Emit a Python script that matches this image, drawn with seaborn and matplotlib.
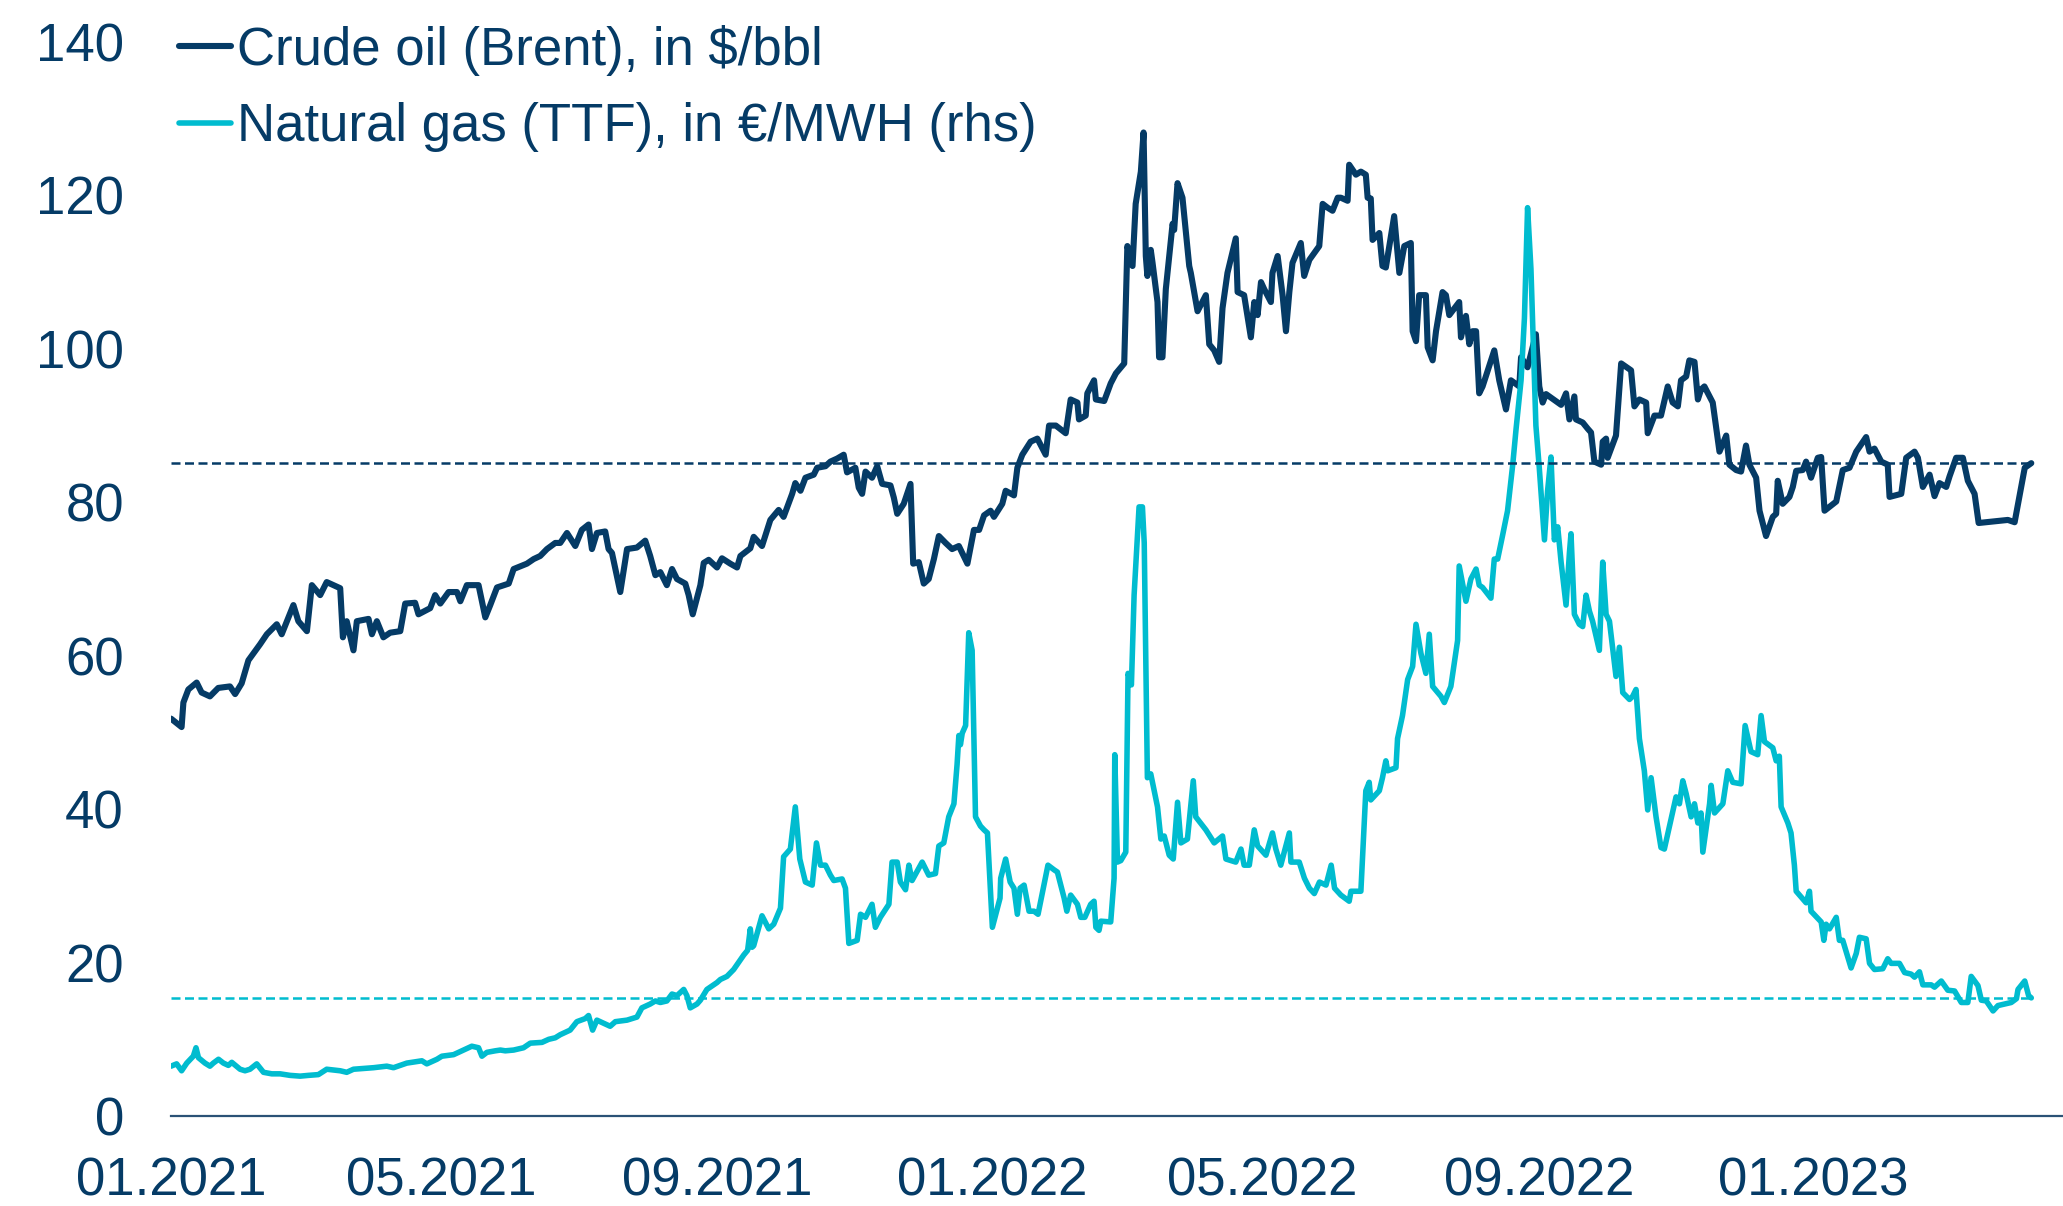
import pandas as pd
import seaborn as sns
import matplotlib.pyplot as plt
import matplotlib.dates as mdates

# days since 01.01.2021 and prices
oil_days = [0, 4.7, 5.5, 7.7, 11.4, 13.6, 17.3, 21, 26.2, 28.5, 31.4, 34.4, 39.6, 42.6, 47, 49.2,
            54.4, 56.6, 60.4, 62.6, 66.3, 69.2, 75.2, 76.4, 78.1, 81.1, 82.6, 87.8, 89.3, 91.5,
            94.4, 97.4, 101.9, 104.1, 108.5, 110, 115.2, 117.4, 119.7, 123.4, 127.1, 128.6,
            131.5, 136.7, 139.7, 141.9, 144.9, 150.1, 152.3, 158.2, 161.2, 164.1, 167.1, 170.8,
            173, 176, 179.7, 182.6, 185.6, 187.1, 189.3, 193, 194.5, 196, 199.7, 202.7, 207.1,
            210.8, 213, 215.3, 217.5, 220.4, 222.7, 224.9, 228.6, 230.1, 231.9, 235.3, 236.8,
            239, 242.7, 244.9, 248.6, 251.6, 253.1, 257.5, 259, 262.7, 266.4, 270.1, 272.3,
            276.1, 277.5, 279.8, 282, 285.7, 287.2, 290.9, 293.1, 296.1, 299, 300.5, 304.2,
            305.7, 307.2, 308.7, 311.6, 313.9, 316.1, 319.8, 321.3, 322.8, 325.7, 328.7, 329.9,
            332.4, 334.6, 336.8, 339.1, 341.3, 344.3, 347.2, 350.2,
            354, 356.9, 359.2, 361.4, 364.3, 365.8, 369.5, 371, 374.7, 376.2, 378.4, 382.1,
            385.1, 388.8, 390.3, 393.3, 397.7, 399.9, 402.9, 403.6, 406.6, 407.3, 410.3, 411.1,
            414.8, 417.7, 420, 423.7, 425.1, 427.4, 428.8, 431.1, 432.3, 433.3, 434, 435.5,
            436.3, 438.5, 439.2, 440.7, 442.2, 445.2, 445.9, 447.4, 449.6, 452.6, 453.3, 456.3,
            460, 461.5, 463.7, 465.9, 467.4, 469.6, 473.3, 474.1, 477, 480, 481.5, 483, 484.5,
            485.9, 488.9, 489.6, 491.9, 494.1, 495.6, 497.1, 498.5, 502.2, 503.7, 506, 510.4,
            511.9, 514.1, 516.3, 518.6, 520, 523, 523.7, 526.7, 528.9,
            531.1, 531.9, 533.3, 534.1, 537.1, 538.5, 540, 543.7, 546, 548.2, 551.1, 551.9,
            553.4, 554.8, 557.8, 558.6, 560.8, 562.3, 565.2, 566.7, 568.2, 572.6, 573.4, 575.6,
            577.1, 578.6, 580.1, 581.5, 583, 588.2, 590.4, 593.4, 595.6, 599.3, 600.1, 603,
            606.7, 608.2, 609.7, 611.2, 617.9, 620.1, 621.6, 623.8, 624.5, 627.5, 629.7, 631.2,
            632.7, 635.7, 636.4, 637.9, 638.6, 642.3, 644.6, 649, 650.5, 652.7, 655.7, 656.4,
            659.4, 662.3, 665.3, 667.5, 669.8, 671.2, 673.5, 674.9, 677.2, 678.7, 680.1, 681.6,
            685.3, 688.3, 691.3, 692.7, 695.7,
            697.9, 700.1, 701.6, 704.6, 706.1, 709, 712, 713.5, 714.2, 716.4, 719.4, 720.9,
            722.4, 725.3, 726.8, 729, 732, 733.5, 735, 740.2, 743.1, 746.1, 749.1, 753.5, 755,
            757.2, 760.2, 763.1, 763.9, 769.1, 771.3, 775, 776.5, 778.7, 781.7, 783.9, 786.1,
            789.1, 790.6, 793.5, 796.5, 798.7, 801.7, 803.5, 816.5, 819.5, 824, 826.9]
oil_price = [51.8, 50.7, 53.9, 55.6, 56.5, 55.2, 54.7, 55.8, 56.0, 55.0, 56.4, 59.4, 61.5, 62.8,
             64.1, 62.8, 66.6, 64.5, 63.2, 69.2, 67.9, 69.6, 68.8, 62.4, 64.5, 60.7, 64.5, 64.8,
             62.8, 64.5, 62.4, 63.0, 63.2, 66.8, 66.9, 65.4, 66.2, 67.9, 66.8, 68.3, 68.3, 67.1,
             69.2, 69.2, 65.0, 66.6, 68.9, 69.4, 71.3, 72.0, 72.6, 73.0, 73.9, 74.7,
             74.7, 76.0, 74.3, 76.4, 77.1, 73.9, 76.0, 76.2, 73.9, 73.4, 68.3, 73.9, 74.1, 75.0,
             73.0, 70.5, 70.9, 69.2, 71.3, 70.0, 69.4, 67.9, 65.4, 69.2, 72.1, 72.5, 71.5, 72.7,
             72.0, 71.5, 73.0, 74.0, 75.5, 74.3, 77.7, 79.0, 78.1, 81.1, 82.5, 81.5, 83.2, 83.6,
             84.5, 84.7, 85.3, 85.7, 86.2, 83.9, 84.5, 81.9, 81.1, 84.0, 83.2, 84.7, 82.4, 82.2,
             80.6, 78.5, 79.8, 82.4, 72.0, 72.2, 69.4, 70.0, 72.6, 75.6, 74.7, 73.9, 74.3,
             72.0, 76.4, 76.4, 78.3, 78.9, 78.1, 79.8, 81.5, 80.9, 84.5, 86.2, 87.9, 88.3, 86.2,
             90.0, 90.0, 89.0, 93.4, 93.0, 90.8, 91.3, 94.2, 95.9, 93.4, 93.2, 95.5, 96.8, 98.1,
             113.4, 110.8, 118.9, 123.1, 128.2, 112.1, 109.5, 112.9, 111.2, 106.1, 98.9, 98.9,
             107.8, 116.3, 115.5, 121.6, 119.7, 110.8, 109.9, 104.9, 107.0, 100.6, 99.8, 98.3,
             105.3, 109.9, 114.4, 107.4, 107.0, 101.5, 106.1, 104.4, 108.7, 107.8, 106.1, 109.9,
             112.1, 107.0, 102.3, 107.4, 111.2, 113.8, 109.5, 111.6, 113.4, 118.9, 118.4, 118.0,
             119.7, 119.7, 119.3, 124.0, 122.7, 123.1,
             122.7, 119.7, 119.6, 114.2, 115.1, 110.8, 110.6, 117.3, 109.9, 113.4, 113.8, 102.3,
             101.0, 107.0, 107.0, 100.2, 98.5, 102.3, 107.4, 107.0, 104.4, 106.1, 101.5, 104.3,
             100.6, 102.3, 102.3, 94.2, 95.1, 99.8, 95.9, 92.1, 95.9, 95.1, 98.9, 97.6, 101.9,
             95.1, 93.0, 94.1, 92.7, 94.2, 90.8, 93.8, 90.8, 90.4, 89.6, 89.1, 85.3, 84.9, 87.9,
             88.3, 85.8, 88.7, 98.1, 97.2, 92.5, 93.4, 93.0, 89.0, 91.3, 91.3, 95.1, 93.0, 92.5,
             95.9, 96.4, 98.5, 98.3, 93.4, 94.7, 95.1, 93.0, 86.6, 88.7, 84.9, 84.2,
             84.0, 87.4, 84.9, 83.2, 78.9, 75.6, 78.1, 78.5, 82.8, 79.8, 80.7, 82.0, 84.1, 84.2,
             85.3, 83.2, 85.8, 85.9, 78.9, 80.1, 84.2, 84.5, 86.6, 88.5, 86.6, 87.0, 85.3, 84.9,
             80.7, 81.1, 85.8, 86.6, 85.8, 82.0, 83.6, 80.8, 82.5, 82.0, 83.4, 85.8, 85.8, 82.8,
             81.1, 77.3, 77.7, 77.4, 84.5, 85.1]

# gas is on the (hidden) rhs scale; values here are as they sit against the lhs axis
gas_days = [0, 2.5, 4.7, 7, 9.9, 11.1, 12.2, 15.1, 17.3, 18.8, 21.1, 23.3, 25.5, 27, 30.7, 32.9,
            35.1, 38.1, 41.1, 44.8, 48.5, 52.9, 57.4, 61.1, 65.5, 69.2, 75.2, 78.1, 81.1, 85.6,
            90, 95.9, 98.9, 104.8, 111.5, 113.7, 118.2, 120.4, 125.6, 129.3, 133.7, 136.7,
            138.2, 140.4, 144.1, 146.4, 148.6, 152.3, 156.7, 159.7, 164.9, 167.9, 170.8,
            173, 177.4, 180.4, 184.1, 185.6, 187.4, 189.3, 193, 195.2, 197.5, 202.7, 207.1,
            209.3, 213, 215.3, 217.5, 220.4, 222.7, 224.9, 227.9, 229.3, 230.8, 233.8, 235.3,
            238.2, 242.7, 244.2, 247.1, 250.1, 254.6, 256.3, 257.5, 258.3, 259, 262.7, 265.7,
            267.9, 270.9, 272.3, 275.3, 277.5, 279.5, 282, 285, 286.9, 288.7, 290.9, 293.1,
            294.6, 298.3, 299.8, 301.3, 305, 306.5, 308.7, 311.6, 313.1, 315.3, 319.1, 320.5,
            322.8, 324.2, 326.5, 328, 329.4, 333.9, 336.8, 339.8, 341.3, 343.5, 345.7, 348,
            349.4, 350.2, 350.9, 351.7, 353.2, 354.6, 356.1, 357.6, 359.8,
            361.4, 362.9, 365.1, 366.6, 368.5, 368.8, 371, 373, 374.7, 376.2, 377.4, 379.2,
            381.4, 383.6, 385.4, 389.8, 392.5, 394, 397, 398.2, 399.9, 402.9, 404.4, 406.2,
            408.8, 410.3, 411.1, 412.5, 413.3, 417.7, 419.2, 419.5, 420.7, 422.2, 424.4, 425.4,
            426.9, 428.1, 430.3, 431.8, 432.6, 434, 435.5, 438.5, 440, 441.5, 443.7, 445.5,
            447.4, 448.9, 451.8, 454.4, 455.5, 460, 463.7, 467.4, 468.9, 473.3, 475.6, 477,
            479.3, 481.5, 483, 486.7, 489.6, 491.1, 493.3, 497.1, 497.8, 501.5, 503.8, 506,
            508.2, 510.5, 513.4, 515.7, 517.2, 520, 523.7, 524.5,
            528.9, 531.1, 532.6, 533.3, 537.1, 538.5, 540, 540.8, 544.5, 545.2, 547.4, 549.7,
            551.9, 553.4, 555.6, 557.8, 559.3, 560.8, 564.5, 566, 568.9, 571.9, 572.6, 575.6,
            577.8, 580.1, 581.5, 583, 586.7, 588.2, 589.7, 591.9, 594.1, 596.4, 597.9, 600.1,
            601.6, 603, 604.5, 606.7, 608.2, 610.5, 611.9, 613.4, 614.9, 616.4, 617.9, 620.1,
            621.6, 622.3, 623.8, 626, 627.5, 629, 630.5, 631.9, 634.9, 636.4, 637.9, 639.4,
            642.3, 643.8, 645.3, 648.3, 649.7, 651.2, 652.7, 654.9, 656.4, 657.9, 660.1, 662.3,
            663.8, 666.1, 669, 670.5, 672, 673.5, 675.7, 677.2, 678.7, 680.1, 680.9, 683.9,
            684.6, 686.1, 689.8, 692, 694.2, 697.9,
            699.7, 702.3, 705.3, 706.8, 708.3, 712, 713.5, 714.9, 715.7, 718.7, 720.1, 721.6,
            722.4, 726.8, 728.3, 729, 733.5, 734.7, 735.7, 737.2, 740.2, 741.6, 743.1, 746.8,
            749.1, 750.5, 753.5, 755, 757.2, 760.9, 763.1, 764.6, 768.3, 770.6, 773.5, 775,
            777.2, 778.7, 782.4, 783.9, 786.9, 789.8, 792.8, 795.8, 798.7, 800.2, 803.2, 804.7,
            806.9, 809.9, 812.1, 815.1, 818, 820.3, 821, 824, 825.7, 826.9]
gas_price = [6.5, 6.8, 5.9, 6.9, 7.8, 8.9, 7.6, 6.9, 6.5, 6.9, 7.4, 6.9, 6.6, 7.0, 6.1, 5.9, 6.1,
             6.8, 5.7, 5.5, 5.5, 5.3, 5.2, 5.3, 5.4, 6.1, 5.9, 5.7, 6.1, 6.2, 6.3, 6.5, 6.3, 6.9,
             7.2, 6.8, 7.4, 7.8, 8.0, 8.5, 9.1, 8.9, 7.8, 8.3, 8.5, 8.6, 8.5, 8.6, 8.9, 9.5, 9.6,
             10.0, 10.2,
             10.6, 11.2, 12.3, 12.7, 13.1, 11.2, 12.5, 12.0, 11.7, 12.3, 12.5, 12.9, 14.1, 14.6,
             15.0, 14.8, 15.0, 15.9, 15.7, 16.5, 15.7, 14.1, 14.6, 15.1, 16.5, 17.4, 17.8, 18.2,
             19.1, 21.0, 21.6, 24.4, 22.0, 22.2, 26.1, 24.4, 25.0, 27.1, 33.8, 34.8, 40.3, 33.5,
             30.5, 30.1, 35.6, 32.7, 32.7, 31.4, 30.7, 30.9, 29.7, 22.5, 22.9, 26.3, 25.9, 27.6,
             24.6, 25.9, 27.6, 33.1, 33.1, 30.5, 29.5, 32.7, 30.7, 33.1, 31.4, 31.6, 35.2, 35.6,
             39.0, 40.7, 45.8, 49.6, 48.4, 49.9, 50.9, 63.0, 60.7, 39.0, 37.8,
             37.3, 36.9, 24.6, 26.3, 28.4, 31.0, 33.5, 30.5, 29.7, 26.3, 29.7, 30.1, 26.7, 26.7,
             26.3, 32.7, 32.1, 31.8, 28.4, 26.7, 28.8, 27.6, 25.9, 25.9, 27.6, 28.0, 24.6, 24.2,
             25.4, 25.3, 31.0, 47.1, 33.1, 33.3, 34.4, 57.7, 56.2, 67.9, 79.4, 79.4, 74.7, 44.1,
             44.6, 40.3, 36.1, 36.5, 34.0, 33.5, 40.9, 35.6, 36.1, 43.7, 39.0, 37.3, 35.6, 36.5,
             33.5, 33.1, 34.8, 32.7, 32.7, 37.3, 35.2, 34.0, 36.9, 34.8, 32.7, 36.9, 33.1, 33.1,
             31.0, 29.7, 29.0, 30.5, 30.1, 32.7, 29.7, 28.8, 28.0, 29.3,
             29.3, 42.4, 43.5, 41.2, 42.4, 44.1, 46.3, 45.0, 45.4, 49.2, 52.2, 56.9, 58.6, 64.1,
             60.3, 57.7, 62.8, 56.0, 54.7, 53.9, 56.0, 62.0, 71.7, 67.1, 70.0, 71.3, 69.2, 68.9,
             67.5, 72.6, 72.6, 75.7, 78.9, 84.9, 89.6, 95.9, 104.0, 118.4, 110.4, 90.0, 84.5,
             75.1, 81.5, 85.9, 75.1, 76.8, 72.2, 66.6, 73.4, 75.9, 65.4, 64.1, 63.8, 67.9, 65.8,
             64.5, 60.7, 72.2, 65.4, 64.5, 57.3, 61.1, 55.2, 54.3, 54.7, 55.6, 49.2, 45.0, 39.9,
             44.1, 39.0, 35.0, 34.8, 37.8, 41.6, 40.7, 43.7, 42.0, 39.0, 40.7, 38.2, 39.5, 34.4,
             40.7, 43.1, 39.5, 40.7, 45.0, 43.5, 43.3,
             50.9, 47.5, 47.1, 52.2, 48.8, 48.0, 46.3, 46.9, 40.3, 38.2, 36.9, 32.7, 29.3, 27.8,
             29.3, 26.7, 25.3, 22.9, 25.0, 24.4, 25.9, 22.9, 22.9, 19.3, 21.2, 23.3, 23.1, 19.9,
             19.1, 19.2, 20.5, 19.9, 19.9, 18.7, 18.5, 18.1, 18.8, 17.1, 17.1, 16.8, 17.6, 16.4,
             16.3, 14.8, 14.8, 18.2, 17.0, 15.1, 15.0, 13.7, 14.4, 14.6, 14.8, 15.3, 16.5, 17.6,
             15.7, 15.4]

tick_dates = ["2021-01-01", "2021-05-01", "2021-09-01", "2022-01-01",
              "2022-05-01", "2022-09-01", "2023-01-01"]
y_ticks = [0, 20, 40, 60, 80, 100, 120, 140]
oil_label = "Crude oil (Brent), in $/bbl"
gas_label = "Natural gas (TTF), in €/MWH (rhs)"

navy = "#053b66"
cyan = "#00bccf"

start = pd.Timestamp("2021-01-01")
end = pd.Timestamp("2023-04-22")
oil = pd.DataFrame({"date": start + pd.to_timedelta(oil_days, unit="D"), "value": oil_price})
gas = pd.DataFrame({"date": start + pd.to_timedelta(gas_days, unit="D"), "value": gas_price})

sns.set_theme(style="white")
plt.rcParams["font.family"] = ["Liberation Sans", "DejaVu Sans"]

fig = plt.figure(figsize=(20.63, 12.06), dpi=100)
ax = fig.add_axes([0.0829, 0.0746, 0.9171, 0.8906])

sns.lineplot(data=oil, x="date", y="value", color=navy, lw=4.4, estimator=None,
             label=oil_label, ax=ax)
sns.lineplot(data=gas, x="date", y="value", color=cyan, lw=4.0, estimator=None,
             label=gas_label, ax=ax)

# dashed lines = latest level of each series
ax.hlines(oil_price[-1], oil["date"].iloc[0], oil["date"].iloc[-1], colors=navy,
          linestyles=(0, (3.6, 1.8)), lw=1.8)
ax.hlines(gas_price[-1], gas["date"].iloc[0], gas["date"].iloc[-1], colors=cyan,
          linestyles=(0, (3.6, 1.8)), lw=1.8)

ax.set_xlim(start, end)
ax.set_ylim(0, 140)
ax.set_yticks(y_ticks)
ax.set_xticks(pd.to_datetime(tick_dates))
ax.xaxis.set_major_formatter(mdates.DateFormatter("%m.%Y"))
ax.set_xlabel("")
ax.set_ylabel("")

sns.despine(ax=ax, left=True)
ax.spines["bottom"].set_color("#2b5276")
ax.spines["bottom"].set_linewidth(1.6)
ax.tick_params(axis="both", length=0, labelsize=38, colors=navy)
ax.tick_params(axis="y", pad=34)
ax.tick_params(axis="x", pad=29)

leg = ax.legend(loc="upper left", bbox_to_anchor=(0.004, 1.016), frameon=False,
                borderaxespad=0, borderpad=0, handlelength=1.0, handletextpad=0.1,
                labelspacing=0.5, fontsize=38)
for t in leg.get_texts():
    t.set_color(navy)

fig.savefig("out.png", dpi=100)
